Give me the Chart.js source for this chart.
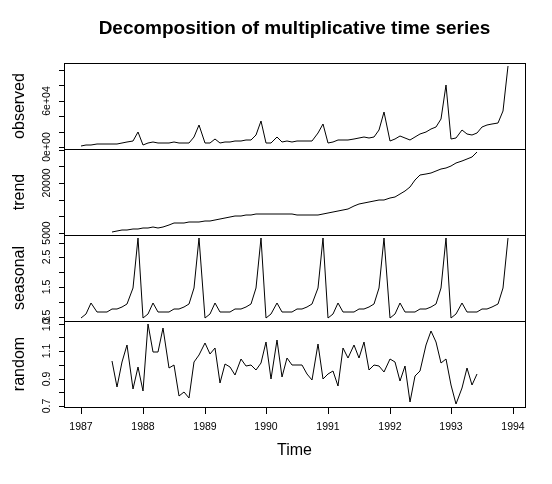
<!DOCTYPE html>
<html>
<head>
<meta charset="utf-8">
<title>Decomposition of multiplicative time series</title>
<script src="https://cdn.jsdelivr.net/npm/chart.js@4.4.1/dist/chart.umd.min.js"></script>
<style>
  html, body { margin: 0; padding: 0; background: #ffffff; }
  #wrap { position: relative; width: 552px; height: 484px; }
</style>
</head>
<body>
<div id="wrap"><canvas id="decompChart" width="552" height="484"></canvas></div>
<script>
// Monthly series, Jan 1987 - Dec 1993
const startYear = 1987;
const freq = 12;

// observed sales
const observed = [
    1664.81, 2397.53, 2840.71, 3547.29, 3752.96, 3714.74, 4349.61, 3566.34, 5021.82, 6423.48, 7600.60, 19756.21,
    2499.81, 5198.24, 7225.14, 4806.03, 5900.88, 4951.34, 6179.12, 4752.15, 5496.43, 5835.10, 12600.08, 28541.72,
    4717.02, 5702.63, 9957.58, 5304.78, 6492.43, 6630.80, 7349.62, 8176.62, 8573.17, 9690.50, 15151.84, 34061.01,
    5921.10, 5814.58, 12421.25, 6369.77, 7609.12, 7224.75, 8121.22, 7979.25, 8093.06, 8476.70, 17914.66, 30114.41,
    4826.64, 6470.23, 9638.77, 8821.17, 8722.37, 10209.48, 11276.55, 12552.22, 11637.39, 13606.89, 21822.11, 45060.69,
    7615.03, 9849.69, 14558.40, 11587.33, 9332.56, 13082.09, 16732.78, 19888.61, 23933.38, 25391.35, 36024.80, 80721.71,
    10243.24, 11266.88, 21826.84, 17357.33, 15997.79, 18601.53, 26155.15, 28586.52, 30505.41, 30821.33, 46634.38, 104660.67
];

// trend and random start at Jul 1987 (6 months in)
const componentOffset = 6;

const trend = [
    5421.1, 5572.6, 5872.0, 6107.1, 6249.1, 6390.1,
    6517.9, 6643.5, 6712.7, 6707.9, 6891.7, 7466.1, 7924.6, 8038.0, 8172.8, 8307.5, 8352.9, 8447.5,
    8566.3, 8757.7, 9028.6, 9317.4, 9584.4, 9920.7, 10200.8, 10255.7, 10363.0, 10510.0, 10600.9, 10672.2,
    10729.1, 10753.0, 10724.8, 10654.2, 10718.8, 10669.4, 10459.4, 10441.1, 10352.5, 10338.7, 10487.2, 10658.0,
    10913.8, 11235.8, 11574.0, 11935.5, 12312.0, 13097.6, 13836.6, 14093.6, 14439.4, 14759.6, 14900.3, 15045.4,
    15392.4, 15925.5, 16743.5, 17746.8, 18829.6, 20907.3, 22502.7, 22671.2, 23033.1, 23576.4, 24094.5, 24602.2,
    25224.8, 25979.8, 26616.0, 27116.1, 27784.4, 29224.0
];

// seasonal figure, Jan..Dec
const seasonalFigure = [0.4745, 0.6042, 0.9829, 0.6568, 0.6749, 0.6794, 0.7779, 0.7650, 0.8356, 0.9217, 1.4797, 3.1474];

const random = [
    1.0314, 0.8366, 1.0235, 1.1412, 0.8220, 0.9823,
    0.8082, 1.2951, 1.0950, 1.0909, 1.2686, 0.9762, 1.0023, 0.7728, 0.8048, 0.7621, 1.0195, 1.0735,
    1.1606, 1.0778, 1.1221, 0.8668, 1.0037, 0.9838, 0.9262, 1.0422, 0.9901, 1.0003, 0.9659, 1.0140,
    1.1631, 0.8949, 1.1783, 0.9103, 1.0519, 0.9966, 0.9982, 0.9990, 0.9356, 0.8895, 1.1544, 0.8977,
    0.9319, 0.9532, 0.8473, 1.1253, 1.0496, 1.1473, 1.0477, 1.1642, 0.9645, 1.0002, 0.9897, 0.9516,
    1.0426, 1.0237, 0.8846, 0.9941, 0.7343, 0.9210, 0.9559, 1.1468, 1.2435, 1.1685, 1.0105, 1.0425,
    0.8558, 0.7178, 0.8344, 0.9746, 0.8532, 0.9369
];

// axis ticks and the labels R kept (blank = tick without label)
const yearTicks = [1987, 1988, 1989, 1990, 1991, 1992, 1993, 1994];
const obsTicks = [0, 20000, 40000, 60000, 80000, 100000];
const obsLabels = ['0e+00', '', '', '6e+04', '', ''];
const trendTicks = [5000, 10000, 15000, 20000, 25000, 30000];
const trendLabels = ['5000', '', '', '20000', '', ''];
const seasTicks = [0.5, 1.0, 1.5, 2.0, 2.5, 3.0];
const seasLabels = ['0.5', '', '1.5', '', '2.5', ''];
const randTicks = [0.7, 0.8, 0.9, 1.0, 1.1, 1.2, 1.3];
const randLabels = ['0.7', '', '0.9', '', '1.1', '', '1.3'];

const fontFamily = '"Liberation Sans", Arial, Helvetica, sans-serif';

// Build {x, y} points on the time axis
function toPoints(values, offset) {
    return values.map((v, i) => ({ x: startYear + (i + offset) / freq, y: v }));
}

// R-style axis range: data range stretched by 4%
function padRange(lo, hi) {
    const pad = (hi - lo) * 0.04;
    return { min: lo - pad, max: hi + pad };
}

const seasonal = observed.map((_, i) => seasonalFigure[i % freq]);

const panels = [
    { id: 'yObs', name: 'observed', values: observed, offset: 0, ticks: obsTicks, labels: obsLabels, weight: 4 },
    { id: 'yTrend', name: 'trend', values: trend, offset: componentOffset, ticks: trendTicks, labels: trendLabels, weight: 3 },
    { id: 'ySeas', name: 'seasonal', values: seasonal, offset: 0, ticks: seasTicks, labels: seasLabels, weight: 2 },
    { id: 'yRand', name: 'random', values: random, offset: componentOffset, ticks: randTicks, labels: randLabels, weight: 1 }
];

const xRange = padRange(startYear, startYear + (observed.length - 1) / freq);

// Frame each panel and write the rotated y tick labels
const panelFrame = {
    id: 'panelFrame',
    afterDraw(chart) {
        const ctx = chart.ctx;
        const area = chart.chartArea;
        ctx.save();
        ctx.strokeStyle = '#000000';
        ctx.lineWidth = 1;
        panels.forEach(p => {
            const s = chart.scales[p.id];
            ctx.strokeRect(Math.round(area.left) + 0.5, Math.round(s.top) + 0.5,
                Math.round(area.right - area.left), Math.round(s.bottom - s.top));
        });

        ctx.fillStyle = '#000000';
        ctx.font = '10.5px ' + fontFamily;
        ctx.textAlign = 'center';
        ctx.textBaseline = 'middle';
        panels.forEach(p => {
            const s = chart.scales[p.id];
            p.ticks.forEach((v, i) => {
                if (!p.labels[i]) return;
                ctx.save();
                ctx.translate(47, s.getPixelForValue(v));
                ctx.rotate(-Math.PI / 2);
                ctx.fillText(p.labels[i], 0, 0);
                ctx.restore();
            });
        });
        ctx.restore();
    }
};

const scales = {
    x: {
        type: 'linear',
        position: 'bottom',
        min: xRange.min,
        max: xRange.max,
        alignToPixels: true,
        afterBuildTicks: scale => { scale.ticks = yearTicks.map(v => ({ value: v })); },
        afterFit: scale => { scale.height = 77; },
        ticks: {
            color: '#000000',
            font: { family: fontFamily, size: 10.5 },
            padding: 6.4,
            autoSkip: false,
            maxRotation: 0,
            callback: value => String(value)
        },
        grid: { drawOnChartArea: false, drawTicks: true, tickLength: 7, color: '#000000', lineWidth: 1 },
        border: { display: false },
        title: {
            display: true,
            text: 'Time',
            color: '#000000',
            font: { family: fontFamily, size: 16 },
            padding: { top: 0, bottom: 23.9 }
        }
    }
};

panels.forEach(p => {
    const lo = Math.min(...p.values);
    const hi = Math.max(...p.values);
    const range = padRange(lo, hi);
    scales[p.id] = {
        type: 'linear',
        position: 'left',
        stack: 'panels',
        stackWeight: 1,
        weight: p.weight,
        min: range.min,
        max: range.max,
        alignToPixels: true,
        afterBuildTicks: scale => { scale.ticks = p.ticks.map(v => ({ value: v })); },
        afterFit: scale => { scale.width = 64; },
        ticks: { display: false },
        grid: { drawOnChartArea: false, drawTicks: true, tickLength: 5, color: '#000000', lineWidth: 1 },
        border: { display: false },
        title: {
            display: true,
            text: p.name,
            color: '#000000',
            font: { family: fontFamily, size: 16 },
            padding: { top: 10.4, bottom: 0 }
        }
    };
});

const datasets = panels.map(p => ({
    label: p.name,
    data: toPoints(p.values, p.offset),
    xAxisID: 'x',
    yAxisID: p.id,
    borderColor: '#000000',
    borderWidth: 1,
    pointRadius: 0,
    fill: false,
    tension: 0
}));

new Chart(document.getElementById('decompChart').getContext('2d'), {
    type: 'line',
    data: { datasets: datasets },
    options: {
        responsive: false,
        animation: false,
        layout: { padding: { left: 0, right: 27, top: 0, bottom: 0 } },
        scales: scales,
        plugins: {
            legend: { display: false },
            tooltip: { enabled: false },
            title: {
                display: true,
                fullSize: false,
                text: 'Decomposition of multiplicative time series',
                color: '#000000',
                font: { family: fontFamily, size: 19, weight: 'bold' },
                padding: { top: 17.3, bottom: 22.9 }
            }
        }
    },
    plugins: [panelFrame]
});
</script>
</body>
</html>
